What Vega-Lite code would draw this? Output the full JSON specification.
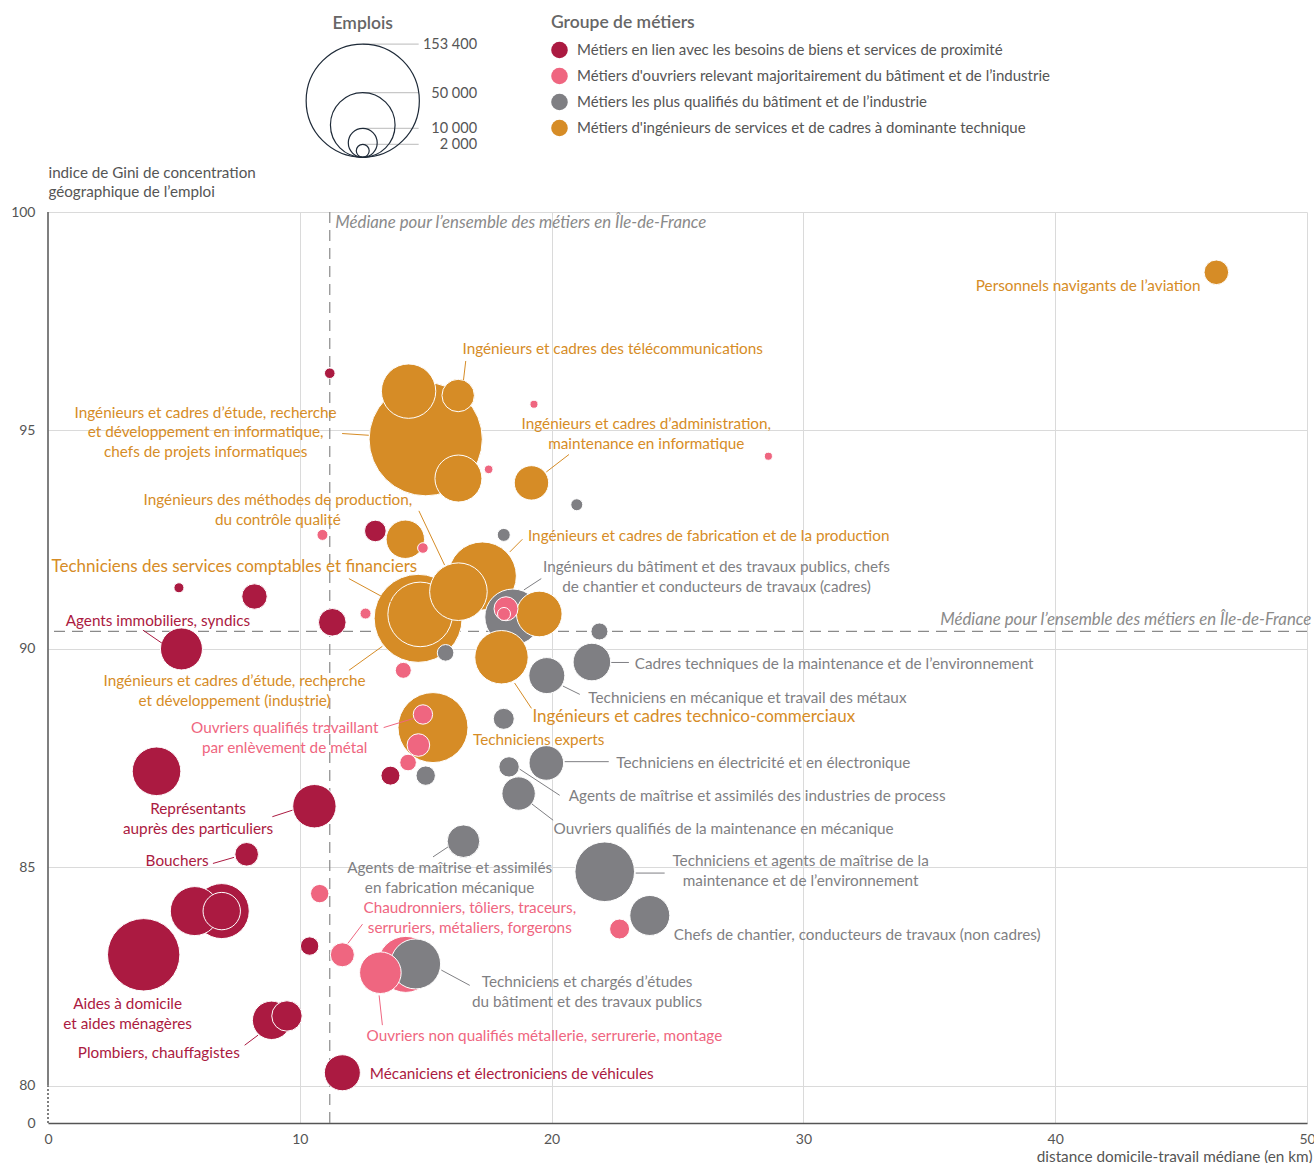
{
  "$schema": "https://vega.github.io/schema/vega-lite/v6.json",
  "width": 1259,
  "height": 911,
  "autosize": {"type": "none"},
  "padding": {"left": 48, "top": 212, "right": 7, "bottom": 40},
  "background": "white",
  "config": {"font": "Lato", "view": {"stroke": null}, "axis": {"grid": true, "gridColor": "#dadada", "gridWidth": 1}},
  "resolve": {"legend": {"color": "independent", "size": "independent"}},
  "datasets": {
    "points": [
      {"groupe":"I","distance":15.00,"gini":94.80,"emplois":153400},
      {"groupe":"I","distance":14.32,"gini":95.90,"emplois":35400},
      {"groupe":"I","distance":16.29,"gini":95.80,"emplois":12600},
      {"groupe":"I","distance":16.30,"gini":93.90,"emplois":26400},
      {"groupe":"I","distance":19.20,"gini":93.80,"emplois":14200},
      {"groupe":"I","distance":46.40,"gini":98.62,"emplois":7240},
      {"groupe":"I","distance":14.19,"gini":92.51,"emplois":17650},
      {"groupe":"I","distance":14.70,"gini":90.70,"emplois":92700},
      {"groupe":"I","distance":14.78,"gini":90.79,"emplois":49950},
      {"groupe":"I","distance":16.30,"gini":91.31,"emplois":39700},
      {"groupe":"I","distance":17.25,"gini":91.67,"emplois":55350},
      {"groupe":"I","distance":19.51,"gini":90.80,"emplois":24900},
      {"groupe":"I","distance":18.01,"gini":89.81,"emplois":34130},
      {"groupe":"I","distance":15.29,"gini":88.20,"emplois":58650},
      {"groupe":"O","distance":17.50,"gini":94.11,"emplois":890},
      {"groupe":"O","distance":19.30,"gini":95.60,"emplois":770},
      {"groupe":"O","distance":28.61,"gini":94.41,"emplois":770},
      {"groupe":"O","distance":10.90,"gini":92.61,"emplois":1450},
      {"groupe":"O","distance":14.89,"gini":92.31,"emplois":1350},
      {"groupe":"O","distance":12.61,"gini":90.81,"emplois":1450},
      {"groupe":"O","distance":14.11,"gini":89.51,"emplois":3060},
      {"groupe":"O","distance":18.19,"gini":90.92,"emplois":6900},
      {"groupe":"O","distance":18.11,"gini":90.80,"emplois":2020},
      {"groupe":"O","distance":14.89,"gini":88.50,"emplois":4500},
      {"groupe":"O","distance":14.71,"gini":87.80,"emplois":6120},
      {"groupe":"O","distance":14.30,"gini":87.40,"emplois":3300},
      {"groupe":"O","distance":10.79,"gini":84.40,"emplois":4050},
      {"groupe":"O","distance":11.69,"gini":83.00,"emplois":6900},
      {"groupe":"O","distance":13.20,"gini":82.59,"emplois":20700},
      {"groupe":"O","distance":14.21,"gini":82.78,"emplois":37540},
      {"groupe":"O","distance":22.70,"gini":83.59,"emplois":4790},
      {"groupe":"Q","distance":21.00,"gini":93.30,"emplois":1720},
      {"groupe":"Q","distance":18.10,"gini":92.61,"emplois":2020},
      {"groupe":"Q","distance":18.46,"gini":90.73,"emplois":37540},
      {"groupe":"Q","distance":15.79,"gini":89.91,"emplois":3300},
      {"groupe":"Q","distance":21.90,"gini":90.40,"emplois":3460},
      {"groupe":"Q","distance":21.60,"gini":89.70,"emplois":16920},
      {"groupe":"Q","distance":19.81,"gini":89.39,"emplois":15510},
      {"groupe":"Q","distance":18.10,"gini":88.40,"emplois":5280},
      {"groupe":"Q","distance":19.79,"gini":87.39,"emplois":14330},
      {"groupe":"Q","distance":18.31,"gini":87.30,"emplois":4980},
      {"groupe":"Q","distance":15.00,"gini":87.10,"emplois":4500},
      {"groupe":"Q","distance":18.69,"gini":86.69,"emplois":13350},
      {"groupe":"Q","distance":16.50,"gini":85.60,"emplois":12720},
      {"groupe":"Q","distance":22.11,"gini":84.90,"emplois":42520},
      {"groupe":"Q","distance":23.90,"gini":83.90,"emplois":19150},
      {"groupe":"Q","distance":14.60,"gini":82.79,"emplois":29930},
      {"groupe":"P","distance":11.19,"gini":96.31,"emplois":1350},
      {"groupe":"P","distance":13.00,"gini":92.70,"emplois":5590},
      {"groupe":"P","distance":5.20,"gini":91.40,"emplois":1200},
      {"groupe":"P","distance":8.20,"gini":91.20,"emplois":7720},
      {"groupe":"P","distance":11.29,"gini":90.61,"emplois":9120},
      {"groupe":"P","distance":5.30,"gini":90.00,"emplois":21110},
      {"groupe":"P","distance":13.60,"gini":87.10,"emplois":4320},
      {"groupe":"P","distance":4.31,"gini":87.20,"emplois":28270},
      {"groupe":"P","distance":10.58,"gini":86.40,"emplois":22550},
      {"groupe":"P","distance":7.89,"gini":85.30,"emplois":6670},
      {"groupe":"P","distance":5.83,"gini":84.00,"emplois":28740},
      {"groupe":"P","distance":6.90,"gini":84.00,"emplois":36210},
      {"groupe":"P","distance":6.90,"gini":84.00,"emplois":16740},
      {"groupe":"P","distance":3.80,"gini":83.00,"emplois":62740},
      {"groupe":"P","distance":10.39,"gini":83.20,"emplois":4050},
      {"groupe":"P","distance":8.88,"gini":81.50,"emplois":17650},
      {"groupe":"P","distance":9.49,"gini":81.60,"emplois":11060},
      {"groupe":"P","distance":11.69,"gini":80.30,"emplois":15510}
    ],
    "labels": [
      {"id":"L1","groupe":"I","distance":16.46,"gini":96.86,"texte":"Ingénieurs et cadres des télécommunications"},
      {"id":"L2","groupe":"I","distance":6.26,"gini":95.41,"texte":"Ingénieurs et cadres d’étude, recherche\net développement en informatique,\nchefs de projets informatiques"},
      {"id":"L3","groupe":"I","distance":23.76,"gini":95.15,"texte":"Ingénieurs et cadres d’administration,\nmaintenance en informatique"},
      {"id":"L4","groupe":"I","distance":45.77,"gini":98.31,"texte":"Personnels navigants de l’aviation"},
      {"id":"L5","groupe":"I","distance":9.13,"gini":93.41,"texte":"Ingénieurs des méthodes de production,\ndu contrôle qualité"},
      {"id":"L6","groupe":"I","distance":0.14,"gini":91.88,"texte":"Techniciens des services comptables et financiers"},
      {"id":"L7","groupe":"I","distance":7.41,"gini":89.27,"texte":"Ingénieurs et cadres d’étude, recherche\net développement (industrie)"},
      {"id":"L8","groupe":"I","distance":19.06,"gini":92.59,"texte":"Ingénieurs et cadres de fabrication et de la production"},
      {"id":"L9","groupe":"I","distance":19.24,"gini":88.45,"texte":"Ingénieurs et cadres technico-commerciaux"},
      {"id":"L10","groupe":"I","distance":16.88,"gini":87.91,"texte":"Techniciens experts"},
      {"id":"L11","groupe":"Q","distance":26.55,"gini":91.87,"texte":"Ingénieurs du bâtiment et des travaux publics, chefs\nde chantier et conducteurs de travaux (cadres)"},
      {"id":"L12","groupe":"Q","distance":23.30,"gini":89.65,"texte":"Cadres techniques de la maintenance et de l’environnement"},
      {"id":"L13","groupe":"Q","distance":21.46,"gini":88.87,"texte":"Techniciens en mécanique et travail des métaux"},
      {"id":"L14","groupe":"Q","distance":22.57,"gini":87.39,"texte":"Techniciens en électricité et en électronique"},
      {"id":"L15","groupe":"Q","distance":20.68,"gini":86.64,"texte":"Agents de maîtrise et assimilés des industries de process"},
      {"id":"L16","groupe":"Q","distance":20.08,"gini":85.89,"texte":"Ouvriers qualifiés de la maintenance en mécanique"},
      {"id":"L17","groupe":"Q","distance":15.95,"gini":84.98,"texte":"Agents de maîtrise et assimilés\nen fabrication mécanique"},
      {"id":"L18","groupe":"Q","distance":29.89,"gini":85.15,"texte":"Techniciens et agents de maîtrise de la\nmaintenance et de l’environnement"},
      {"id":"L19","groupe":"Q","distance":24.85,"gini":83.45,"texte":"Chefs de chantier, conducteurs de travaux (non cadres)"},
      {"id":"L20","groupe":"Q","distance":21.41,"gini":82.38,"texte":"Techniciens et chargés d’études\ndu bâtiment et des travaux publics"},
      {"id":"L21","groupe":"O","distance":9.40,"gini":88.18,"texte":"Ouvriers qualifiés travaillant\npar enlèvement de métal"},
      {"id":"L22","groupe":"O","distance":16.75,"gini":84.06,"texte":"Chaudronniers, tôliers, traceurs,\nserruriers, métaliers, forgerons"},
      {"id":"L23","groupe":"O","distance":12.65,"gini":81.14,"texte":"Ouvriers non qualifiés métallerie, serrurerie, montage"},
      {"id":"L24","groupe":"P","distance":0.70,"gini":90.64,"texte":"Agents immobiliers, syndics"},
      {"id":"L25","groupe":"P","distance":5.96,"gini":86.34,"texte":"Représentants\nauprès des particuliers"},
      {"id":"L26","groupe":"P","distance":6.38,"gini":85.15,"texte":"Bouchers"},
      {"id":"L27","groupe":"P","distance":3.16,"gini":81.87,"texte":"Aides à domicile\net aides ménagères"},
      {"id":"L28","groupe":"P","distance":4.40,"gini":80.75,"texte":"Plombiers, chauffagistes"},
      {"id":"L29","groupe":"P","distance":12.78,"gini":80.28,"texte":"Mécaniciens et électroniciens de véhicules"}
    ],
    "leaders": [
      {"groupe":"I","distance":16.59,"gini":96.59,"distance2":16.50,"gini2":96.15},
      {"groupe":"I","distance":11.68,"gini":94.93,"distance2":12.74,"gini2":94.89},
      {"groupe":"I","distance":20.69,"gini":94.45,"distance2":19.79,"gini2":94.05},
      {"groupe":"I","distance":14.73,"gini":93.16,"distance2":15.75,"gini2":91.92},
      {"groupe":"I","distance":11.95,"gini":91.61,"distance2":13.64,"gini2":91.08},
      {"groupe":"I","distance":11.95,"gini":89.51,"distance2":13.28,"gini2":90.06},
      {"groupe":"I","distance":18.84,"gini":92.51,"distance2":18.34,"gini2":92.22},
      {"groupe":"I","distance":19.20,"gini":88.64,"distance2":18.53,"gini2":89.22},
      {"groupe":"Q","distance":19.59,"gini":91.61,"distance2":18.90,"gini2":91.35},
      {"groupe":"Q","distance":22.37,"gini":89.69,"distance2":23.07,"gini2":89.69},
      {"groupe":"Q","distance":20.45,"gini":89.15,"distance2":21.12,"gini2":88.96},
      {"groupe":"Q","distance":20.52,"gini":87.42,"distance2":22.27,"gini2":87.42},
      {"groupe":"Q","distance":18.73,"gini":87.25,"distance2":20.32,"gini2":86.65},
      {"groupe":"Q","distance":19.22,"gini":86.45,"distance2":20.06,"gini2":86.08},
      {"groupe":"Q","distance":15.29,"gini":85.24,"distance2":15.89,"gini2":85.47},
      {"groupe":"Q","distance":23.34,"gini":84.87,"distance2":24.49,"gini2":84.87},
      {"groupe":"Q","distance":15.62,"gini":82.65,"distance2":16.75,"gini2":82.30},
      {"groupe":"O","distance":13.33,"gini":88.20,"distance2":14.52,"gini2":88.41},
      {"groupe":"O","distance":12.49,"gini":83.70,"distance2":11.91,"gini2":83.26},
      {"groupe":"O","distance":13.15,"gini":82.07,"distance2":13.28,"gini2":81.39},
      {"groupe":"P","distance":3.77,"gini":90.43,"distance2":4.53,"gini2":90.13},
      {"groupe":"P","distance":8.91,"gini":86.16,"distance2":9.71,"gini2":86.31},
      {"groupe":"P","distance":6.55,"gini":85.09,"distance2":7.39,"gini2":85.23},
      {"groupe":"P","distance":7.81,"gini":80.93,"distance2":8.34,"gini2":81.16}
    ],
    "legende": [
      {"emplois":153400,"libelle":"153 400"},
      {"emplois":50000,"libelle":"50 000"},
      {"emplois":10000,"libelle":"10 000"},
      {"emplois":2000,"libelle":"2 000"}
    ]
  },
  "layer": [
    {
      "data": {"values": [{}]},
      "mark": {"type": "rule", "color": "#8a8a8a", "strokeWidth": 1.2, "strokeDash": [11, 7]},
      "encoding": {"x": {"datum": 11.19, "type": "quantitative"}}
    },
    {
      "data": {"values": [{}]},
      "mark": {"type": "rule", "color": "#8a8a8a", "strokeWidth": 1.2, "strokeDash": [11, 7]},
      "encoding": {"y": {"datum": 90.40, "type": "quantitative"}}
    },
    {
      "data": {"values": [{}]},
      "mark": {"type": "rule", "color": "#555555", "strokeWidth": 1.5},
      "encoding": {"x": {"datum": 0, "type": "quantitative"}, "y": {"datum": 80, "type": "quantitative"}, "y2": {"datum": 100}}
    },
    {
      "data": {"values": [{}]},
      "mark": {"type": "rule", "color": "#555555", "strokeWidth": 1.5, "strokeDash": [2, 2]},
      "encoding": {"x": {"datum": 0, "type": "quantitative"}, "y": {"datum": 79.15, "type": "quantitative"}, "y2": {"datum": 80}}
    },
    {
      "data": {"name": "points"},
      "mark": {"type": "circle", "opacity": 1, "stroke": "white", "strokeWidth": 1},
      "encoding": {
        "x": {
          "field": "distance", "type": "quantitative",
          "scale": {"domain": [0, 50], "nice": false, "zero": false},
          "axis": {
            "values": [0, 10, 20, 30, 40, 50], "grid": true,
            "title": "distance domicile-travail médiane (en km)",
            "titleX": 1264, "titleY": 33, "titleAlign": "right", "titleBaseline": "middle",
            "titleFontSize": 15.3, "titleFontWeight": "normal", "titleColor": "#555555",
            "labelFontSize": 14, "labelColor": "#555555", "labelPadding": 9, "labelFlush": false,
            "ticks": false, "domainColor": "#555555", "domainWidth": 1.5,
            "gridColor": "#dadada",
            "gridOpacity": {"condition": {"test": "datum.value === 0", "value": 0}, "value": 1}
          }
        },
        "y": {
          "field": "gini", "type": "quantitative",
          "scale": {"domain": [79.15, 100], "nice": false, "zero": false},
          "axis": {
            "values": [79.15, 80, 85, 90, 95, 100], "grid": true,
            "labelExpr": "datum.value < 79.5 ? '0' : datum.label",
            "title": ["indice de Gini de concentration", "géographique de l’emploi"],
            "titleAngle": 0, "titleAlign": "left", "titleBaseline": "top",
            "titleX": 0, "titleY": -47, "titleLineHeight": 19,
            "titleFontSize": 15.2, "titleFontWeight": "normal", "titleColor": "#555555",
            "labelFontSize": 14, "labelColor": "#555555", "labelPadding": 13,
            "ticks": false, "domain": false, "gridColor": "#dadada"
          }
        },
        "size": {
          "field": "emplois", "type": "quantitative",
          "scale": {"type": "linear", "domain": [0, 153400], "range": [0, 12814]},
          "legend": null
        },
        "color": {
          "field": "groupe", "type": "nominal",
          "scale": {"domain": ["P", "O", "Q", "I"], "range": ["#ab1a41", "#ef6680", "#7f7f83", "#d68c26"]},
          "legend": {
            "title": "Groupe de métiers",
            "orient": "none", "legendX": 503, "legendY": -198, "direction": "vertical",
            "symbolType": "circle", "symbolSize": 275, "symbolStrokeWidth": 0, "symbolOpacity": 1,
            "labelExpr": "datum.value == 'P' ? 'Métiers en lien avec les besoins de biens et services de proximité' : datum.value == 'O' ? 'Métiers d\\'ouvriers relevant majoritairement du bâtiment et de l’industrie' : datum.value == 'Q' ? 'Métiers les plus qualifiés du bâtiment et de l’industrie' : 'Métiers d\\'ingénieurs de services et de cadres à dominante technique'",
            "labelFontSize": 15, "labelColor": "#555555", "labelLimit": 700, "labelOffset": 9,
            "titleFontSize": 17.5, "titleColor": "#666666", "titleFontWeight": 600, "titlePadding": 10,
            "rowPadding": 9, "padding": 0
          }
        },
        "order": {"field": "emplois", "type": "quantitative", "sort": "descending"}
      }
    },
    {
      "data": {"name": "leaders"},
      "mark": {"type": "rule", "strokeWidth": 1},
      "encoding": {
        "x": {"field": "distance", "type": "quantitative"},
        "y": {"field": "gini", "type": "quantitative"},
        "x2": {"field": "distance2"},
        "y2": {"field": "gini2"},
        "color": {"field": "groupe", "type": "nominal", "legend": null}
      }
    },
    {
      "data": {"name": "labels"},
      "transform": [{"filter": {"field": "id", "oneOf": ["L1","L6","L8","L9","L10","L12","L13","L14","L15","L16","L19","L23","L24","L29"]}}],
      "mark": {"type": "text", "align": "left", "baseline": "middle", "lineBreak": "\n", "lineHeight": 19.7},
      "encoding": {
        "x": {"field": "distance", "type": "quantitative"},
        "y": {"field": "gini", "type": "quantitative"},
        "text": {"field": "texte"},
        "color": {"field": "groupe", "type": "nominal", "legend": null},
        "size": {"condition": {"test": "datum.id === 'L6' || datum.id === 'L9'", "value": 17}, "value": 15.3}
      }
    },
    {
      "data": {"name": "labels"},
      "transform": [{"filter": {"field": "id", "oneOf": ["L2","L3","L5","L7","L11","L17","L18","L20","L21","L22","L25","L27","L28"]}}],
      "mark": {"type": "text", "align": "center", "baseline": "middle", "lineBreak": "\n", "lineHeight": 19.7, "fontSize": 15.3},
      "encoding": {
        "x": {"field": "distance", "type": "quantitative"},
        "y": {"field": "gini", "type": "quantitative"},
        "text": {"field": "texte"},
        "color": {"field": "groupe", "type": "nominal", "legend": null}
      }
    },
    {
      "data": {"name": "labels"},
      "transform": [{"filter": {"field": "id", "oneOf": ["L4","L26"]}}],
      "mark": {"type": "text", "align": "right", "baseline": "middle", "lineBreak": "\n", "lineHeight": 19.7, "fontSize": 15.3},
      "encoding": {
        "x": {"field": "distance", "type": "quantitative"},
        "y": {"field": "gini", "type": "quantitative"},
        "text": {"field": "texte"},
        "color": {"field": "groupe", "type": "nominal", "legend": null}
      }
    },
    {
      "data": {"values": [{}]},
      "mark": {"type": "text", "align": "left", "baseline": "middle", "fontStyle": "italic", "fontSize": 16.8, "color": "#8a8a8a"},
      "encoding": {
        "x": {"datum": 11.41, "type": "quantitative"},
        "y": {"datum": 99.74, "type": "quantitative"},
        "text": {"value": "Médiane pour l’ensemble des métiers en Île-de-France"}
      }
    },
    {
      "data": {"values": [{}]},
      "mark": {"type": "text", "align": "right", "baseline": "middle", "fontStyle": "italic", "fontSize": 16.8, "color": "#8a8a8a"},
      "encoding": {
        "x": {"datum": 50.17, "type": "quantitative"},
        "y": {"datum": 90.66, "type": "quantitative"},
        "text": {"value": "Médiane pour l’ensemble des métiers en Île-de-France"}
      }
    },
    {
      "data": {"name": "legende"},
      "transform": [{"calculate": "101.252 + 2.5916 * sqrt(datum.emplois / 153400)", "as": "haut"}],
      "mark": {"type": "rule", "color": "#c8c8c8", "strokeWidth": 1.2},
      "encoding": {
        "x": {"datum": 12.5, "type": "quantitative"},
        "x2": {"datum": 14.72},
        "y": {"field": "haut", "type": "quantitative"}
      }
    },
    {
      "data": {"name": "legende"},
      "transform": [{"calculate": "101.252 + 1.2958 * sqrt(datum.emplois / 153400)", "as": "centre"}],
      "mark": {"type": "point", "shape": "circle", "filled": false, "stroke": "#1e2a38", "strokeWidth": 1.2, "opacity": 1},
      "encoding": {
        "x": {"datum": 12.5, "type": "quantitative"},
        "y": {"field": "centre", "type": "quantitative"},
        "size": {"field": "emplois", "type": "quantitative", "legend": null}
      }
    },
    {
      "data": {"name": "legende"},
      "transform": [{"calculate": "101.252 + 2.5916 * sqrt(datum.emplois / 153400) - 0.02", "as": "haut"}],
      "mark": {"type": "text", "align": "right", "baseline": "middle", "fontSize": 14.5, "color": "#555555"},
      "encoding": {
        "x": {"datum": 17.04, "type": "quantitative"},
        "y": {"field": "haut", "type": "quantitative"},
        "text": {"field": "libelle"}
      }
    },
    {
      "data": {"values": [{}]},
      "mark": {"type": "text", "align": "center", "baseline": "middle", "fontSize": 17.5, "fontWeight": 600, "color": "#666666"},
      "encoding": {
        "x": {"datum": 12.5, "type": "quantitative"},
        "y": {"datum": 104.3, "type": "quantitative"},
        "text": {"value": "Emplois"}
      }
    }
  ]
}
